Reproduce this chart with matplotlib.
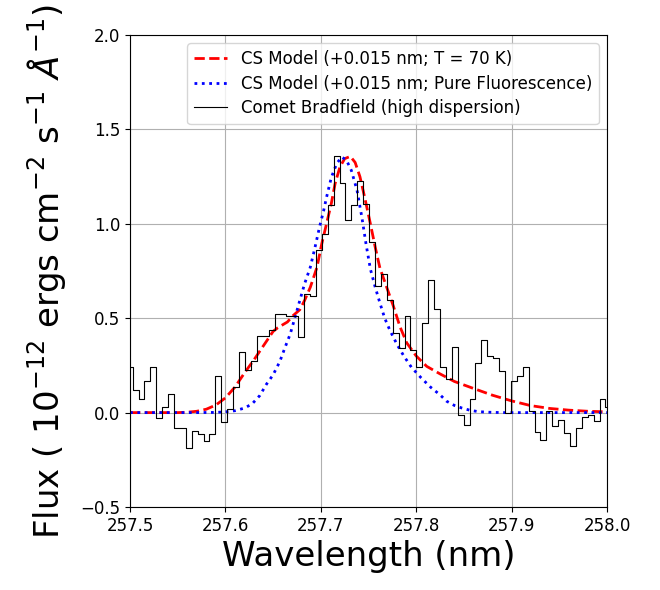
import numpy as np
import matplotlib
matplotlib.use('Agg')
import matplotlib.pyplot as plt

# observed spectrum (regular pixel grid)
obs_start = 257.4997
obs_step = 0.006195
obs_flux = [0.24, 0.12, 0.07, 0.17, 0.24, -0.03, 0.03, 0.10, -0.08, -0.08,
            -0.19, -0.10, -0.115, -0.15, -0.115, 0.195, -0.05, 0.02, 0.135, 0.32,
            0.225, 0.275, 0.405, 0.405, 0.44, 0.52, 0.52, 0.51, 0.51, 0.40,
            0.63, 0.615, 0.86, 0.945, 1.10, 1.36, 1.215, 1.02, 1.10, 1.225,
            1.105, 0.905, 0.67, 0.735, 0.595, 0.42, 0.34, 0.51, 0.33, 0.24,
            0.475, 0.70, 0.55, 0.24, 0.18, 0.35, -0.015, -0.065, 0.07, 0.265,
            0.385, 0.30, 0.29, 0.22, 0.0, 0.165, 0.195, 0.24, 0.01, -0.105,
            -0.145, 0.01, -0.07, -0.04, -0.11, -0.175, -0.08, -0.025, -0.015, -0.045,
            0.07, 0.03]

# CS model, T = 70 K
red_wl = [257.50, 257.55, 257.56, 257.57, 257.58, 257.59, 257.60, 257.61, 257.62, 257.63,
          257.64, 257.65, 257.655, 257.665, 257.671, 257.678, 257.683, 257.689, 257.696, 257.701,
          257.706, 257.711, 257.715, 257.720, 257.725, 257.731, 257.736, 257.741, 257.746, 257.752,
          257.757, 257.762, 257.769, 257.776, 257.783, 257.790, 257.800, 257.811, 257.825, 257.840,
          257.860, 257.880, 257.900, 257.920, 257.940, 257.960, 257.980, 258.0]
red_flux = [0.0, 0.0, 0.002, 0.007, 0.018, 0.04, 0.078, 0.135, 0.21, 0.28,
            0.355, 0.43, 0.45, 0.48, 0.514, 0.545, 0.594, 0.664, 0.77, 0.894,
            1.0, 1.107, 1.213, 1.30, 1.345, 1.357, 1.325, 1.25, 1.14, 1.0,
            0.877, 0.765, 0.665, 0.565, 0.455, 0.37, 0.30, 0.245, 0.205, 0.165,
            0.128, 0.092, 0.062, 0.037, 0.022, 0.013, 0.007, 0.004]

# CS model, pure fluorescence
blue_wl = [257.50, 257.57, 257.59, 257.60, 257.61, 257.62, 257.628, 257.636, 257.643, 257.65,
           257.657, 257.6625, 257.668, 257.673, 257.678, 257.683, 257.689, 257.694, 257.699, 257.703,
           257.706, 257.711, 257.7167, 257.722, 257.727, 257.732, 257.738, 257.743, 257.7475, 257.752,
           257.757, 257.762, 257.767, 257.7725, 257.78, 257.787, 257.795, 257.805, 257.815, 257.825,
           257.832, 257.84, 257.848, 257.856, 257.865, 257.876, 257.89, 258.0]
blue_flux = [0.0, 0.0, 0.001, 0.004, 0.01, 0.024, 0.046, 0.09, 0.15, 0.2,
             0.27, 0.345, 0.417, 0.505, 0.594, 0.682, 0.77, 0.877, 0.99, 1.07,
             1.14, 1.245, 1.32, 1.354, 1.336, 1.283, 1.177, 1.036, 0.89, 0.76,
             0.665, 0.58, 0.50, 0.435, 0.36, 0.30, 0.24, 0.185, 0.135, 0.094,
             0.06, 0.038, 0.024, 0.013, 0.005, 0.002, 0.0, 0.0]

obs_wl = obs_start + obs_step * np.arange(len(obs_flux))

fig = plt.figure(figsize=(6.6, 5.9), dpi=100)
ax = fig.add_axes([130/660, 1 - 507/590, 477/660, 472/590])

ax.plot(red_wl, red_flux, c='r', ls='--', lw=2, label='CS Model (+0.015 nm; T = 70 K)')
ax.plot(blue_wl, blue_flux, c='b', ls=':', lw=2, label='CS Model (+0.015 nm; Pure Fluorescence)')
ax.step(obs_wl, obs_flux, where='mid', c='k', lw=0.8, label='Comet Bradfield (high dispersion)')

ax.set_xlim(257.5, 258.0)
ax.set_ylim(-0.5, 2.0)
ax.set_xticks(np.arange(257.5, 258.01, 0.1))
ax.set_yticks(np.arange(-0.5, 2.01, 0.5))
ax.tick_params(labelsize=12)
ax.grid(True)

ax.legend(loc='upper right', fontsize=12, labelspacing=0.4)
ax.set_xlabel('Wavelength (nm)', fontsize=24.5)
ax.set_ylabel(r'Flux ( $10^{-12}$ ergs cm$^{-2}$ s$^{-1}$ $\AA^{-1}$)', fontsize=24.5, labelpad=9)

fig.savefig('out.png', dpi=100)
